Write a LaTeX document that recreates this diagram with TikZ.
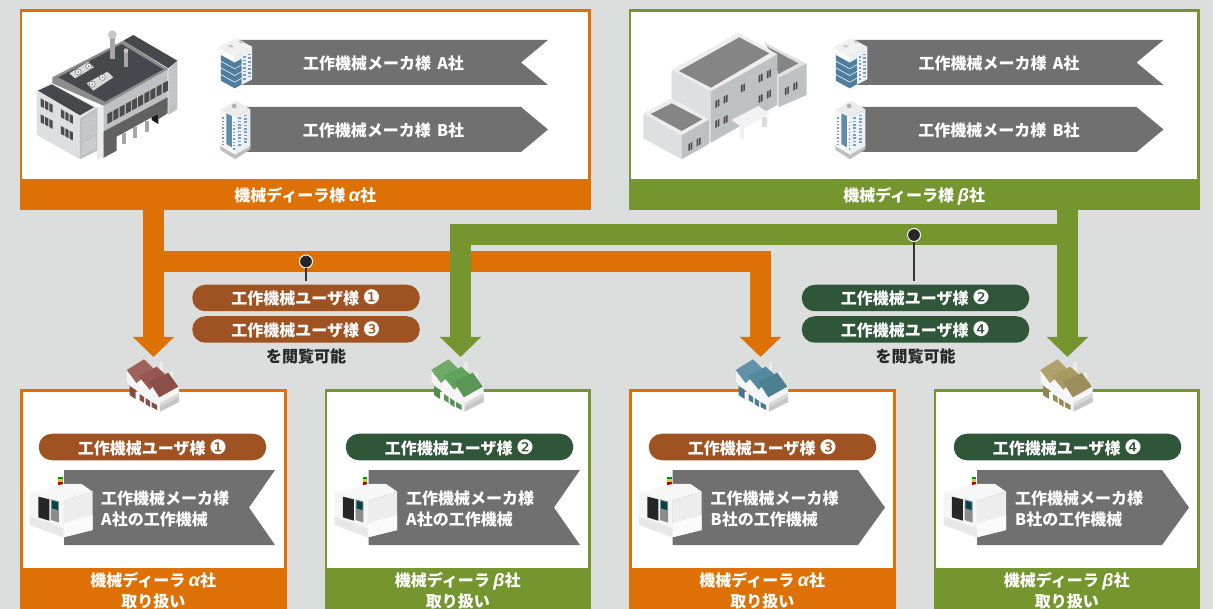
\documentclass[tikz,border=0pt]{standalone}
\usepackage{fontspec}
\usetikzlibrary{arrows.meta,calc}
\setmainfont{Noto Sans CJK JP}
\newfontfamily\grkfont{Liberation Sans}
\newfontfamily\symfont{DejaVu Sans}
\newcommand{\grk}[1]{{\grkfont\bfseries\itshape\fontsize{18}{21}\selectfont #1}}
\newcommand{\cnum}[1]{{\symfont\mdseries\fontsize{20}{21}\selectfont #1}}
\definecolor{bgc}{HTML}{DCDEDD}
\definecolor{orc}{HTML}{DE7106}
\definecolor{grc}{HTML}{75962E}
\definecolor{ribc}{HTML}{707070}
\definecolor{brc}{HTML}{9F5322}
\definecolor{dgc}{HTML}{2F5639}
\definecolor{dark}{HTML}{45494D}
\definecolor{wall}{HTML}{BDC1C3}
\definecolor{wlight}{HTML}{DDE0E1}
\definecolor{towc}{HTML}{4F7F9F}
\definecolor{rfr}{HTML}{96574E}
\definecolor{rfg}{HTML}{62A35C}
\definecolor{rfb}{HTML}{5389A1}
\definecolor{rfo}{HTML}{A89A62}
\tikzset{
  x=1pt,y=-1pt,
  txt/.style={font=\fontsize{16}{21}\selectfont\bfseries,text=white,inner sep=0,align=center},
  oneline/.style={text height=14pt,text depth=0pt},
  frame/.style={draw=#1,line width=2.7pt,fill=white,inner sep=0,rectangle},
  foot/.style={fill=#1,txt,inner sep=0,rectangle},
  pill/.style={fill=#1,txt,oneline,rounded corners=13pt,minimum width=227.5pt,minimum height=26.5pt},
  ribbon/.style={fill=ribc,draw=none},
  flow/.style={draw=#1,line width=21pt,line join=miter,-{Triangle[length=20pt,width=40pt]}},
  stem/.style={draw=#1,line width=1.6pt},
  pindot/.style={circle,fill=black!85,draw=white,line width=1pt,minimum size=13pt,inner sep=0},
  captxt/.style={font=\fontsize{16}{20}\selectfont\bfseries,text=black!85,inner sep=0,oneline}
}
% small office towers, coords = zoom units around origin (205,30)
\newcommand{\towerA}[2]{%
\begin{scope}[shift={(#1,#2)},scale=.3333,xscale=1.05]
 \fill[black!2] (37,52)--(85,80)--(85,175)--(37,148)--cycle;
 \fill[towc!12!white] (85,80)--(135,50)--(135,148)--(85,175)--cycle;
 \fill[black!6] (37,52)--(88,25)--(135,50)--(85,80)--cycle;
 \fill[black!22] (65,48)--(73,44)--(82,49)--(74,53)--cycle (95,35)--(103,31)--(112,36)--(104,40)--cycle;
 \foreach \i in {0,1,2,3}{
  \fill[towc] (45,75+20*\i)--(85,98+20*\i)--(105,86+20*\i)--(105,103+20*\i)--(85,115+20*\i)--(45,92+20*\i)--cycle;}
 \foreach \i in {0,...,6}{
  \fill[towc!75] (110,78+11*\i) rectangle ++(8,5);
  \fill[towc!75] (123,71+11*\i) rectangle ++(8,5);}
\end{scope}}
\newcommand{\towerB}[2]{%
\begin{scope}[shift={(#1,#2)},scale=.3333,xscale=1.03]
 \fill[black!25] (45,345)--(88,372)--(132,345)--(132,358)--(88,388)--(45,360)--cycle;
 \fill[black!3] (45,240)--(88,262)--(88,374)--(45,348)--cycle;
 \fill[towc!12!white] (88,262)--(132,238)--(132,348)--(88,374)--cycle;
 \fill[black!8] (45,240)--(90,212)--(132,238)--(88,262)--cycle;
 \fill[black!30] (85,228) circle (7);
 \fill[towc!90] (62,250)--(78,258)--(78,352)--(62,342)--cycle;
 \foreach \i in {0,...,8}{
  \fill[towc!80] (50,262+10*\i) rectangle ++(6,4);
  \fill[towc!80] (83,275+10*\i) rectangle ++(3,4);
  \fill[towc!75] (96,262+10*\i) rectangle ++(9,5);
  \fill[towc!75] (113,254+10*\i) rectangle ++(9,5);}
\end{scope}}
% small factory; coordinates for the first one
\newcommand{\factory}[2]{%
\begin{scope}[shift={(#1,0)}]
 \fill[black!4] (127,370)--(127,382)--(160,411.5)--(179,402)--(179,386)--(150,372)--cycle;
 \fill[black!15] (160,403)--(179,393)--(179,402)--(160,411.5)--cycle;
 \fill[black!22] (160,407)--(179,397)--(179,402)--(160,411.5)--cycle;
 \fill[#2!92!white] (126.7,370)--(144,359.3)--(153.3,368.3)--(136.7,383.3)--cycle;
 \fill[black!3] (136.7,383.3)--(153.3,368.3)--(155,380)--(142,390)--cycle;
 \fill[black!8] (159.5,362)rectangle(163,372);
 \fill[#2] (138.3,376)--(156.7,366.7)--(165,374)--(150,390)--cycle;
 \fill[black!3] (150,390)--(165,374)--(167,384)--(154,396)--cycle;
 \fill[black!8] (169,372)rectangle(173,382);
 \fill[#2!92!black] (149.3,381.7)--(168.3,372.7)--(178.3,386.7)--(159.3,397.3)--cycle;
 \fill[#2!85!black] (129.5,386)--(135.5,390)--(135.5,399)--(129.5,395)--cycle;
 \fill[#2!90!black] (139.5,394)--(144,397)--(144,403)--(139.5,400)--cycle
   (145.5,398)--(150,401)--(150,407)--(145.5,404)--cycle
   (151.5,402)--(157,405)--(157,410)--(151.5,407)--cycle;
\end{scope}}
% machining centre, zoom units around (20,460)
\newcommand{\machine}[1]{%
\begin{scope}[shift={(20+#1,460)},scale=.3333]
 \fill[green!60!black] (115,50) rectangle (128,58);
 \fill[yellow!80!black] (115,58) rectangle (128,65);
 \fill[red!70!black] (115,65) rectangle (128,74);
 \fill[black!3] (30,98)--(130,72)--(185,72)--(218,95)--(130,122)--cycle;
 \fill[black!4] (30,98)--(130,122)--(130,232)--(30,195)--cycle;
 \fill[black!7] (130,122)--(218,95)--(218,210)--(130,232)--cycle;
 \fill[black!2] (130,190)--(218,165)--(218,210)--(130,232)--cycle;
 \fill[black!9] (30,170)--(130,205)--(130,232)--(30,195)--cycle;
 \fill[black!85] (55,110)--(88,118)--(88,182)--(55,172)--cycle;
 \fill[black!45] (93,118)--(117,124)--(117,188)--(93,180)--cycle;
 \fill[teal!55!black] (96,122)--(114,127)--(114,150)--(96,145)--cycle;
\end{scope}}
\newcommand{\slats}[2]{%
 \foreach \k in {0,1,2}{
 \fill[black!70] ($(#1,#2)+(13*\k,7*\k)$)--++(10,5.5)--++(0,24)--++(-10,-5.5)--cycle;}}
\newcommand{\winb}[2]{%
 \fill[black!70] (#1,#2)--++(5,-2.5)--++(0,21)--++(-5,2.5)--cycle;
 \fill[black!70] (#1+7,#2-3.5)--++(5,-2.5)--++(0,21)--++(-5,2.5)--cycle;}
\begin{document}
\begin{tikzpicture}
\useasboundingbox (0,0) rectangle (1213,609);
\fill[bgc] (0,0) rectangle (1213,609);
% main frames
\node[frame=orc,minimum width=568.8pt,minimum height=178pt] (boxA) at (305.25,99.5) {};
\node[frame=grc,minimum width=568.4pt,minimum height=178pt] (boxB) at (914.2,99.5) {};
\node[foot=orc,oneline,minimum width=571.5pt,minimum height=30.7pt] (dealerA) at (305.25,194.35) {機械ディーラ様 \grk{α}社};
\node[foot=grc,oneline,minimum width=571.2pt,minimum height=30.7pt] (dealerB) at (914.2,194.35) {機械ディーラ様 \grk{β}社};
% flows
\coordinate (tipA1) at (153.5,357);
\coordinate (tipA3) at (760.5,357);
\coordinate (tipB2) at (460.5,357);
\coordinate (tipB4) at (1067.5,357);
\coordinate (jA) at (153.5,261.5);
\coordinate (jB) at (1067.5,234.5);
\path[flow=orc] (dealerA.south -| tipA1) -- (tipA1);
\path[flow=orc] (jA) -| (tipA3);
\path[flow=grc] (dealerB.south -| tipB4) -- (tipB4);
\path[flow=grc] (jB) -| (tipB2);
% pills in the middle
\node[pill=brc] (p1) at (306,298) {工作機械ユーザ様 \cnum{❶}};
\node[pill=brc] (p3) at (306,329.5) {工作機械ユーザ様 \cnum{❸}};
\node[captxt] (v1) at (306,356) {を閲覧可能};
\node[pill=dgc] (p2) at (915.5,298) {工作機械ユーザ様 \cnum{❷}};
\node[pill=dgc] (p4) at (915.5,329.5) {工作機械ユーザ様 \cnum{❹}};
\node[captxt] (v2) at (915.5,356) {を閲覧可能};
\node[pindot] (pinA) at (306,261.5) {};
\node[pindot] (pinB) at (914,235) {};
\coordinate (endA) at (306,281.5);
\coordinate (endB) at (914,281.5);
\draw[stem=black!80] (pinA) -- (endA);
\draw[stem=black!80] (pinB) -- (endB);
% top ribbons
\foreach \dx/\nm in {0/a,615.5/b}{
 \begin{scope}[shift={(\dx,0)}]
 \fill[ribbon] (235,40)--(548,40)--(521,62.5)--(548,85)--(235,85)--cycle;
 \fill[ribbon] (240,107)--(521,107)--(548,129.5)--(521,152)--(240,152)--cycle;
 \node[txt,oneline] (rA\nm) at (383.5,62.5) {工作機械メーカ様\, A社};
 \node[txt,oneline] (rB\nm) at (383.5,129.5) {工作機械メーカ様\, B社};
 \end{scope}}
\towerA{205}{30}
\towerB{205}{30}
\towerA{820}{30}
\towerB{820}{30}
% Alpha building
\begin{scope}[shift={(20,20)},scale=.3333]
 \fill[wall] (445,150)--(472,122)--(472,268)--(445,285)--cycle;
 \foreach \i in {0,...,12}{\draw[white!85!black,line width=.4pt] (448,158+8*\i)--(470,146+8*\i);}
 \fill[dark] (310,62)--(340,45)--(472,122)--(445,145)--cycle;
 \fill[black!45] (97,172)--(310,62)--(445,148)--(252,258)--(97,190)--cycle;
 \fill[dark] (115,172)--(305,72)--(430,148)--(255,245)--cycle;
 \fill[black!35] (270,50) rectangle (284,117);
 \fill[black!22] (277,44) circle (13);
 \fill[black!35] (313,92) rectangle (324,142);
 \fill[black!22] (318,92) circle (7);
 \fill[black!15] (148,160)--(205,125)--(222,142)--(165,175)--cycle (200,190)--(262,155)--(280,172)--(220,212)--cycle;
 \foreach \a/\b in {175/156,206/139,217/193,247/172}{\draw[black!60,fill=white,line width=.5pt] (\a,\b) circle (9);\fill[black!60] (\a,\b) circle (3);}
 % front right
 \fill[wall] (250,258)--(443,150)--(443,265)--(250,370)--cycle;
 \foreach \n in {0,...,9}{\fill[black!70] (262+18.5*\n,282-10.2*\n)--++(15,-8)--++(0,30)--++(-15,8)--cycle;}
 \fill[black!62] (250,335)--(443,232)--(443,280)--(415,298)--(415,282)--(395,292)--(290,350)--(290,392)--(250,414)--cycle;
 \fill[black!90] (395,292)--(415,282)--(415,312)--(395,300)--cycle;
 \foreach \q/\r in {307/340,340/322,374/303}{\fill[black!35] (\q,\r) rectangle ++(12,32);}
 % central column
 \fill[black!8] (222,262)--(250,258)--(250,410)--(232,420)--cycle;
 % left block
 \fill[wlight] (50,212)--(180,290)--(180,418)--(50,345)--cycle;
 \fill[wall] (180,290)--(232,262)--(232,392)--(180,418)--cycle;
 \foreach \i in {0,...,8}{\draw[white!85!black,line width=.4pt] (186,304+7*\i)--(228,282+7*\i);
  \draw[white!85!black,line width=.4pt] (186,372+4*\i)--(228,350+4*\i);}
 \fill[black!10] (50,212)--(95,190)--(232,262)--(180,295)--cycle;
 \fill[dark] (54,212)--(95,193)--(222,262)--(180,286)--cycle;
 \slats{62}{235}\slats{123}{268}\slats{62}{283}\slats{123}{318}
\end{scope}
% Beta building
\begin{scope}[shift={(630,20)},scale=.3333]
 \fill[black!12] (400,65)--(530,132)--(445,178)--(425,100)--cycle;
 \fill[black!48] (408,78)--(505,130)--(445,162)--(425,95)--cycle;
 \fill[wall] (445,175)--(530,130)--(530,225)--(445,262)--cycle;
 \fill[wlight] (125,150)--(243,213)--(243,368)--(125,300)--cycle;
 \fill[wall] (243,213)--(442,103)--(442,255)--(243,368)--cycle;
 \fill[black!7] (125,150)--(325,38)--(442,103)--(243,213)--cycle;
 \fill[black!48] (147,153)--(328,52)--(418,100)--(243,203)--cycle;
 \fill[wlight] (40,280)--(155,345)--(155,418)--(40,355)--cycle;
 \fill[wall] (155,345)--(237,298)--(237,372)--(155,418)--cycle;
 \fill[black!7] (40,280)--(125,235)--(237,298)--(155,345)--cycle;
 \fill[black!48] (62,282)--(125,250)--(217,298)--(155,333)--cycle;
 \winb{256}{243}\winb{281}{230}\winb{256}{303}\winb{281}{291}
 \winb{333}{196}\winb{386}{167}\winb{411}{154}\winb{386}{228}\winb{411}{215}
 \winb{465}{205}\winb{490}{191}\winb{175}{372}\winb{200}{358}
 \fill[black!6] (330,322) rectangle (343,358);
 \fill[black!14] (395,292) rectangle (410,322);
 \fill[black!5] (305,300)--(385,258)--(420,282)--(340,325)--cycle;
\end{scope}
% bottom boxes
\foreach \xc/\col/\nm in {153.25/orc/1,457.75/grc/2,762.25/orc/3,1066.75/grc/4}{
 \node[frame=\col,minimum width=263.8pt,minimum height=198pt] (box\nm) at (\xc,489.7) {};
 \node[foot=\col,minimum width=266.5pt,minimum height=41pt,anchor=north] (foot\nm) at (\xc,568) {};
}
\node[txt] (ft1) at (153.25,591) {機械ディーラ \grk{α}社\\取り扱い};
\node[txt] (ft2) at (457.75,591) {機械ディーラ \grk{β}社\\取り扱い};
\node[txt] (ft3) at (762.25,591) {機械ディーラ \grk{α}社\\取り扱い};
\node[txt] (ft4) at (1066.75,591) {機械ディーラ \grk{β}社\\取り扱い};
\node[pill=brc] (u1) at (152.5,447) {工作機械ユーザ様 \cnum{❶}};
\node[pill=dgc] (u2) at (459.5,447) {工作機械ユーザ様 \cnum{❷}};
\node[pill=brc] (u3) at (762.5,447) {工作機械ユーザ様 \cnum{❸}};
\node[pill=dgc] (u4) at (1067.5,447) {工作機械ユーザ様 \cnum{❹}};
\fill[ribbon] (64,470)--(275,470)--(249,507.5)--(275,545)--(64,545)--cycle;
\fill[ribbon] (368.5,470)--(580,470)--(554,507.5)--(580,545)--(368.5,545)--cycle;
\fill[ribbon] (672.5,470)--(858,470)--(885,507.5)--(858,545)--(672.5,545)--cycle;
\fill[ribbon] (977,470)--(1162,470)--(1189,507.5)--(1162,545)--(977,545)--cycle;
\node[txt,anchor=west,align=left] (m1) at (101,509) {工作機械メーカ様\\A社の工作機械};
\node[txt,anchor=west,align=left] (m2) at (406,509) {工作機械メーカ様\\A社の工作機械};
\node[txt,anchor=west,align=left] (m3) at (710.5,509) {工作機械メーカ様\\B社の工作機械};
\node[txt,anchor=west,align=left] (m4) at (1015,509) {工作機械メーカ様\\B社の工作機械};
\machine{0}\machine{304.5}\machine{609}\machine{913.5}
\factory{0}{rfr}
\factory{304.5}{rfg}
\factory{609}{rfb}
\factory{913.5}{rfo}
\end{tikzpicture}
\end{document}
